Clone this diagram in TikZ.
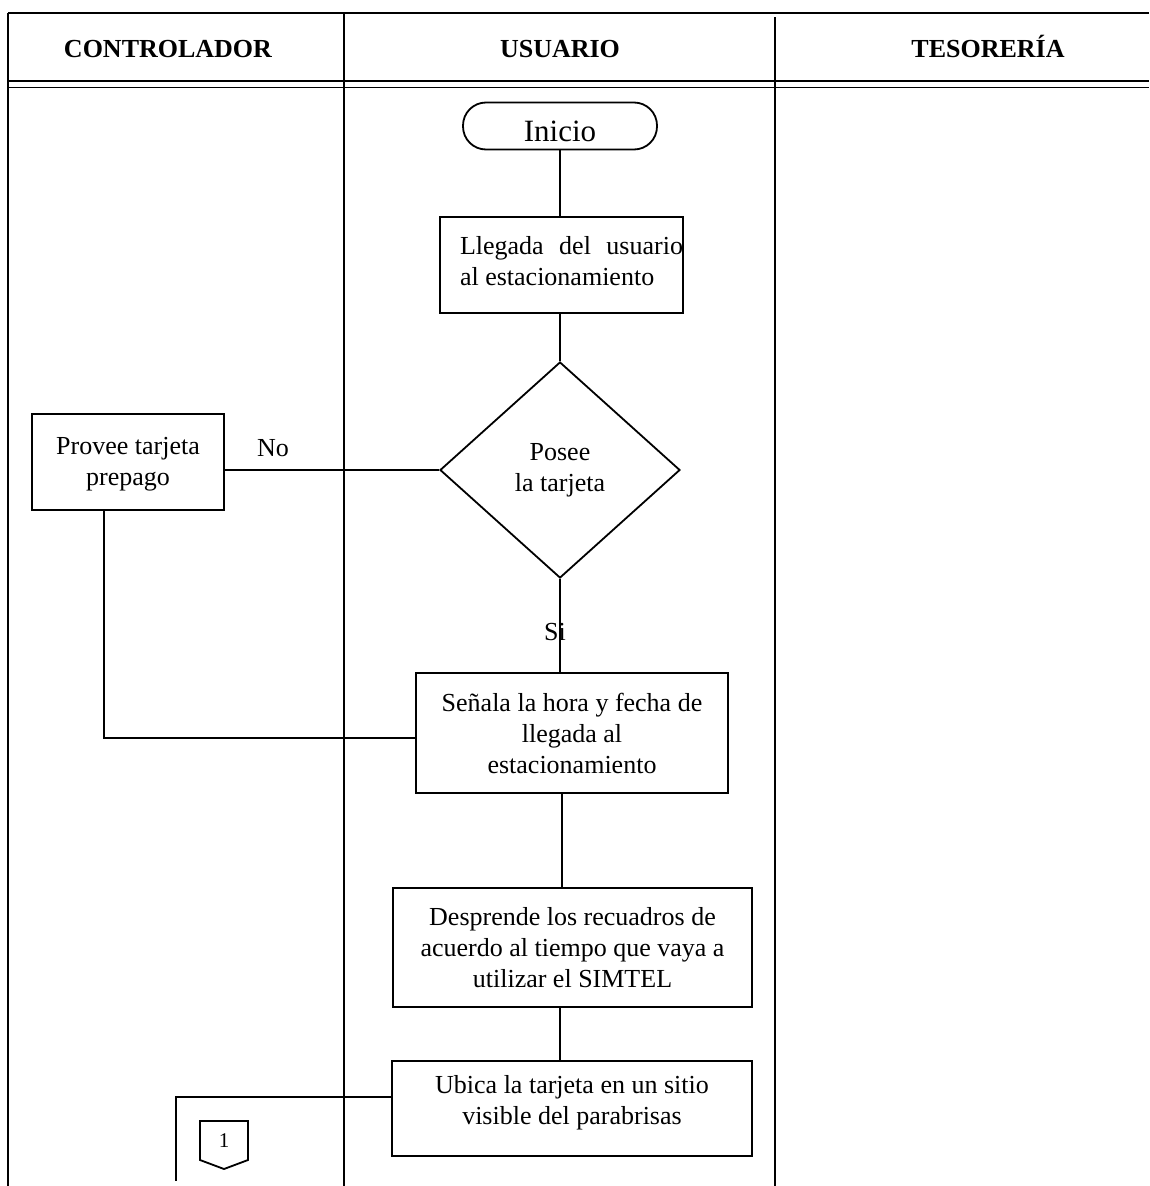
\documentclass[tikz,border=0pt]{standalone}
\usepackage{fontspec}
\setmainfont{Liberation Serif}
\usetikzlibrary{shapes.geometric}
\newcommand{\topbox}[4]{\parbox[c][#1][t]{#2}{\vspace{#3}\centering #4\par}}
\begin{document}
\begin{tikzpicture}[x=1pt,y=-1pt,
  every path/.style={line width=1.8pt},
  body/.style={font=\fontsize{26pt}{31pt}\selectfont},
  procbox/.style={draw, body, align=center, inner sep=0pt},
  termbox/.style={draw, rounded corners=23pt, inner sep=0pt, font=\fontsize{31pt}{36pt}\selectfont},
  decbox/.style={draw, diamond, body, align=center, inner sep=0pt},
  header/.style={font=\fontsize{26pt}{31pt}\selectfont\bfseries, anchor=base, inner sep=0pt},
  lbl/.style={body, inner sep=0pt},
  conn/.style={line width=1.8pt}]
\useasboundingbox (0,0) rectangle (1149,1186);
% frame
\draw (8,13) -- (1149,13);
\draw (8,13) -- (8,1186);
\draw (344,13) -- (344,1186);
\draw (775,17) -- (775,1186);
\draw[line width=2.8pt] (8,81) -- (1149,81);
\draw[line width=1.8pt] (8,87.5) -- (1149,87.5);
% headers
\node[header] (hc) at (168,57) {CONTROLADOR};
\node[header] (hu) at (560,57) {USUARIO};
\node[header] (ht) at (988,57) {TESORERÍA};
% nodes
\node[termbox, minimum width=194pt, minimum height=47pt] (inicio) at (560,126) {\topbox{47pt}{194pt}{18pt}{Inicio}};
\node[procbox, minimum width=243pt, minimum height=96pt] (llegada) at (561.5,265)
  {\parbox[c][96pt][t]{243pt}{\vspace{19pt}\fontsize{26pt}{31pt}\selectfont\leftskip=20pt\rightskip=0pt Llegada\hfill del\hfill usuario\\al estacionamiento}};
\node[decbox, minimum width=240pt, minimum height=216pt] (posee) at (560,470) {Posee\\la tarjeta};
\node[procbox, minimum width=192pt, minimum height=96pt] (provee) at (128,462) {\topbox{96pt}{192pt}{23pt}{Provee tarjeta\\prepago}};
\node[procbox, minimum width=312pt, minimum height=120pt] (senala) at (572,733) {Señala la hora y fecha de\\llegada al\\estacionamiento};
\node[procbox, minimum width=359pt, minimum height=119pt] (desprende) at (572.5,947.5) {Desprende los recuadros de\\acuerdo al tiempo que vaya a\\utilizar el SIMTEL};
\node[procbox, minimum width=360pt, minimum height=95pt] (ubica) at (572,1108.5) {\topbox{95pt}{360pt}{14pt}{Ubica la tarjeta en un sitio\\visible del parabrisas}};
% off-page connector
\draw (200,1121) -- (248,1121) -- (248,1160) -- (224,1169) -- (200,1160) -- cycle;
\node[font=\fontsize{21pt}{24pt}\selectfont, inner sep=0pt] (con1) at (224,1141) {1};
\coordinate (c1) at (176,1181);
% labels
\node[lbl] (no) at (273,448) {No};
\node[lbl] (si) at (555,632) {Si};
% connectors
\draw[conn] (inicio.south) -- (inicio.south |- llegada.north);
\draw[conn] (posee.north |- llegada.south) -- (posee.north);
\draw[conn] (posee.west) -- (posee.west -| provee.east);
\draw[conn] ([xshift=-24pt]provee.south) |- ([yshift=-5pt]senala.west);
\draw[conn] (posee.south) -- (posee.south |- senala.north);
\draw[conn] ([xshift=-10pt]senala.south) -- ([xshift=-10pt]senala.south |- desprende.north);
\draw[conn] ([xshift=-12.5pt]desprende.south) -- ([xshift=-12.5pt]desprende.south |- ubica.north);
\draw[conn] ([yshift=11.5pt]ubica.west) -| (c1);
\end{tikzpicture}
\end{document}
